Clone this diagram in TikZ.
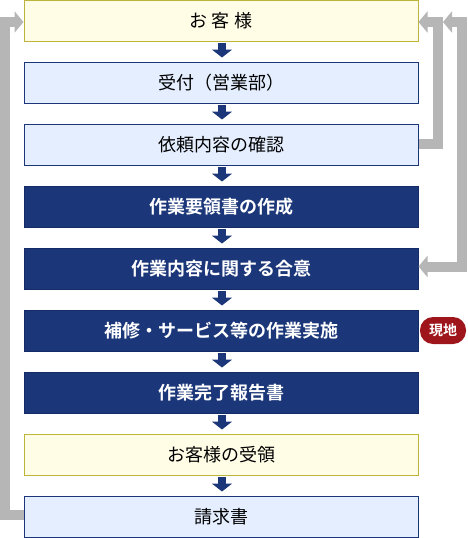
\documentclass[tikz,border=0pt]{standalone}
\usepackage{fontspec}
\setmainfont{Noto Sans CJK JP}
\newfontfamily\jpbold{Noto Sans CJK JP Bold}
\usetikzlibrary{arrows.meta}
\definecolor{ylfill}{HTML}{FFFDE6}
\definecolor{yldraw}{HTML}{BDB43A}
\definecolor{lbfill}{HTML}{E4EEFF}
\definecolor{navy}{HTML}{1B3679}
\definecolor{navyline}{HTML}{152B66}
\definecolor{loopgray}{HTML}{B6B6B6}
\definecolor{badgered}{HTML}{9E161C}
\tikzset{
  box/.style={minimum width=394pt, minimum height=41pt, inner sep=0pt, line width=1pt, font=\fontsize{18}{18}\selectfont},
  ybox/.style={box, fill=ylfill, draw=yldraw},
  lbox/.style={box, fill=lbfill, draw=navy},
  dbox/.style={box, fill=navy, draw=navyline, text=white, font=\fontsize{18}{18}\selectfont\jpbold},
  flow/.style={draw=navy, line width=8.5pt, -{Triangle[width=20pt,length=8pt]}, shorten <=1pt, shorten >=4pt},
  loop/.style={draw=loopgray, line width=10pt, line join=miter},
  badge/.style={fill=badgered, text=white, rounded corners=13pt, minimum width=46pt, minimum height=27pt, inner sep=0pt, font=\fontsize{14}{14}\selectfont\jpbold}
}
\begin{document}
\begin{tikzpicture}[x=1pt,y=-1pt]
\useasboundingbox (0,0) rectangle (467,538);
\node[ybox] (b1) at (221,20.5) {お\hspace{5pt}客\hspace{5pt}様};
\node[lbox] (b2) at (221,82.5) {受付（営業部）};
\node[lbox] (b3) at (221,144.5) {依頼内容の確認};
\node[dbox] (b4) at (221,206.5) {作業要領書の作成};
\node[dbox] (b5) at (221,268.5) {作業内容に関する合意};
\node[dbox] (b6) at (221,330.5) {補修・サービス等の作業実施};
\node[dbox] (b7) at (221,392.5) {作業完了報告書};
\node[ybox] (b8) at (221,454.5) {お客様の受領};
\node[lbox] (b9) at (221,516.5) {請求書};
\node[badge] (bg) at (443,330.5) {現地};
\foreach \a/\b in {b1/b2,b2/b3,b3/b4,b4/b5,b5/b6,b6/b7,b7/b8,b8/b9}
  \draw[flow] ([xshift=1pt]\a.south) -- ([xshift=1pt]\b.north);
\coordinate (jn) at (443,22);
\draw[loop,-{Triangle[width=21pt,length=9pt]}] ([yshift=1.5pt]b9.west) -- (5,515) -- (5,22) -- ([yshift=-1.5pt]b1.west);
\draw[loop,-{Triangle[width=21pt,length=9pt]}] ([yshift=1pt]b3.east) -- (438,143.5) -- (438,22) -- ([yshift=-1.5pt]b1.east);
\draw[loop,{Triangle[width=21pt,length=9pt]}-{Triangle[width=21pt,length=9pt]}] (jn) -- (462,22) -- (462,266.5) -- ([yshift=2pt]b5.east);
\end{tikzpicture}
\end{document}
